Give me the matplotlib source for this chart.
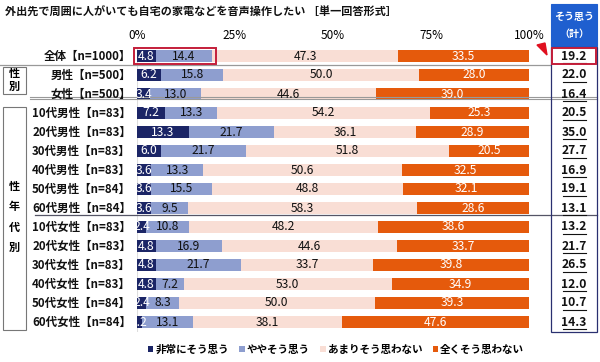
import matplotlib
matplotlib.use("Agg")
import matplotlib.pyplot as plt
import matplotlib.transforms as mtrans
from matplotlib.patches import Rectangle, Polygon
import numpy as np

plt.rcParams['font.family'] = ['Noto Sans CJK JP', 'DejaVu Sans']

title = "外出先で周囲に人がいても自宅の家電などを音声操作したい ［単一回答形式］"
categories = ["全体【n=1000】", "男性【n=500】", "女性【n=500】",
              "10代男性【n=83】", "20代男性【n=83】", "30代男性【n=83】",
              "40代男性【n=83】", "50代男性【n=84】", "60代男性【n=84】",
              "10代女性【n=83】", "20代女性【n=83】", "30代女性【n=83】",
              "40代女性【n=83】", "50代女性【n=84】", "60代女性【n=84】"]
series_names = ["非常にそう思う", "ややそう思う", "あまりそう思わない", "全くそう思わない"]
very = [4.8, 6.2, 3.4, 7.2, 13.3, 6.0, 3.6, 3.6, 3.6, 2.4, 4.8, 4.8, 4.8, 2.4, 1.2]
some = [14.4, 15.8, 13.0, 13.3, 21.7, 21.7, 13.3, 15.5, 9.5, 10.8, 16.9, 21.7, 7.2, 8.3, 13.1]
notmuch = [47.3, 50.0, 44.6, 54.2, 36.1, 51.8, 50.6, 48.8, 58.3, 48.2, 44.6, 33.7, 53.0, 50.0, 38.1]
notatall = [33.5, 28.0, 39.0, 25.3, 28.9, 20.5, 32.5, 32.1, 28.6, 38.6, 33.7, 39.8, 34.9, 39.3, 47.6]
total_agree = ["19.2", "22.0", "16.4", "20.5", "35.0", "27.7", "16.9", "19.1", "13.1",
               "13.2", "21.7", "26.5", "12.0", "10.7", "14.3"]
xticks = [0, 25, 50, 75, 100]
xticklabels = ["0%", "25%", "50%", "75%", "100%"]

colors = ["#1B2566", "#8E9ECF", "#F9DED5", "#E55A0C"]
text_colors = ["white", "#111111", "#111111", "white"]

W, H = 600, 362
fig = plt.figure(figsize=(6.0, 3.62), dpi=100)
top_px, bot_px = 46.5, 331.5
ax = fig.add_axes([137 / W, 1 - bot_px / H, 392 / W, (bot_px - top_px) / H])
n = len(categories)
y = np.arange(n)
ax.set_ylim(n - 0.5, -0.5)
ax.set_xlim(0, 100)

data = [very, some, notmuch, notatall]
left = np.zeros(n)
handles = []
for vals, c, tc, name in zip(data, colors, text_colors, series_names):
    vals = np.array(vals)
    b = ax.barh(y, vals, left=left, height=0.68, color=c, label=name, zorder=2)
    handles.append(b)
    for yi, (l, v) in enumerate(zip(left, vals)):
        ax.text(l + v / 2, yi, f"{v:.1f}", ha="center", va="center",
                color=tc, fontsize=8.7, zorder=3)
    left = left + vals

for s in ax.spines.values():
    s.set_visible(False)
ax.set_yticks([])
ax.set_xticks(xticks)
ax.set_xticklabels(xticklabels, fontsize=8.5)
ax.xaxis.tick_top()
ax.tick_params(axis="x", length=0, pad=3)
ax.axvline(0, color="#DDDDDD", lw=0.8, zorder=1)

# category labels
blend = mtrans.blended_transform_factory(fig.transFigure, ax.transData)
for yi, cat in enumerate(categories):
    ax.text(131 / W, yi, cat, transform=blend, ha="right", va="center",
            fontsize=8.3, fontweight="bold", color="#111111")

# separator lines
ax.plot([0, 550 / W], [0.45, 0.45], transform=blend, color="#999999", lw=0.9, clip_on=False)
ax.plot([30 / W, 597 / W], [2.15, 2.15], transform=blend, color="#999999", lw=0.8, clip_on=False)
ax.plot([30 / W, 597 / W], [2.27, 2.27], transform=blend, color="#999999", lw=0.8, clip_on=False)
ax.plot([35 / W, 597 / W], [8.35, 8.35], transform=blend, color="#555566", lw=0.9, clip_on=False)

# group boxes
def fig_rect(x0, y0, x1, y1, **kw):
    r = Rectangle((x0 / W, 1 - y1 / H), (x1 - x0) / W, (y1 - y0) / H,
                  transform=fig.transFigure, **kw)
    fig.add_artist(r)

fig_rect(3, 67, 26, 94, fill=False, edgecolor="#777777", lw=0.8)
fig.text(14.5 / W, 1 - 80 / H, "性\n別", ha="center", va="center", fontsize=8,
         fontweight="bold", linespacing=1.0)
fig_rect(3, 107, 26, 330, fill=False, edgecolor="#777777", lw=0.8)
fig.text(14.5 / W, 1 - 217 / H, "性\n年\n代\n別", ha="center", va="center", fontsize=8,
         fontweight="bold", linespacing=1.75)

# header box
fig_rect(551, 4, 597, 46, facecolor="#1F5FCF", edgecolor="#1F5FCF", lw=0.8)
fig.text(574 / W, 1 - 17 / H, "そう思う", ha="center", va="center", color="white",
         fontsize=7.2, fontweight="bold")
fig.text(574 / W, 1 - 34 / H, "（計）", ha="center", va="center", color="white",
         fontsize=7.2, fontweight="bold")
# values column box
fig_rect(551, 47, 597, 332, fill=False, edgecolor="#2A3070", lw=0.9)
for yi, v in enumerate(total_agree):
    ax.text(574 / W, yi, v, transform=blend, ha="center", va="center",
            fontsize=8.7, fontweight="bold", color="#111111")
    ax.plot([563 / W, 585.5 / W], [yi + 0.36, yi + 0.36], transform=blend,
            color="#111111", lw=0.8, clip_on=False)
# red highlight boxes
fig_rect(552, 48, 596, 64, fill=False, edgecolor="#C41E3A", lw=1.4)
fig_rect(134, 48, 216, 64, fill=False, edgecolor="#C41E3A", lw=1.4)
tri = Polygon([(537 / W, 1 - 45 / H), (547 / W, 1 - 55 / H), (545 / W, 1 - 43 / H)],
              closed=True, transform=fig.transFigure, color="#E01020")
fig.add_artist(tri)

# title
fig.text(5 / W, 1 - 12 / H, title, ha="left", va="center", fontsize=8,
         fontweight="bold", color="#111111")

# legend
leg = fig.legend(handles=handles, labels=series_names, loc="center",
                 bbox_to_anchor=(336 / W, 1 - 350 / H), ncol=4, frameon=False,
                 fontsize=7.6, handlelength=0.5, handleheight=0.5,
                 handletextpad=0.2, columnspacing=1.0, borderaxespad=0)
for t in leg.get_texts():
    t.set_fontweight("bold")

fig.savefig("out.png", dpi=100)
